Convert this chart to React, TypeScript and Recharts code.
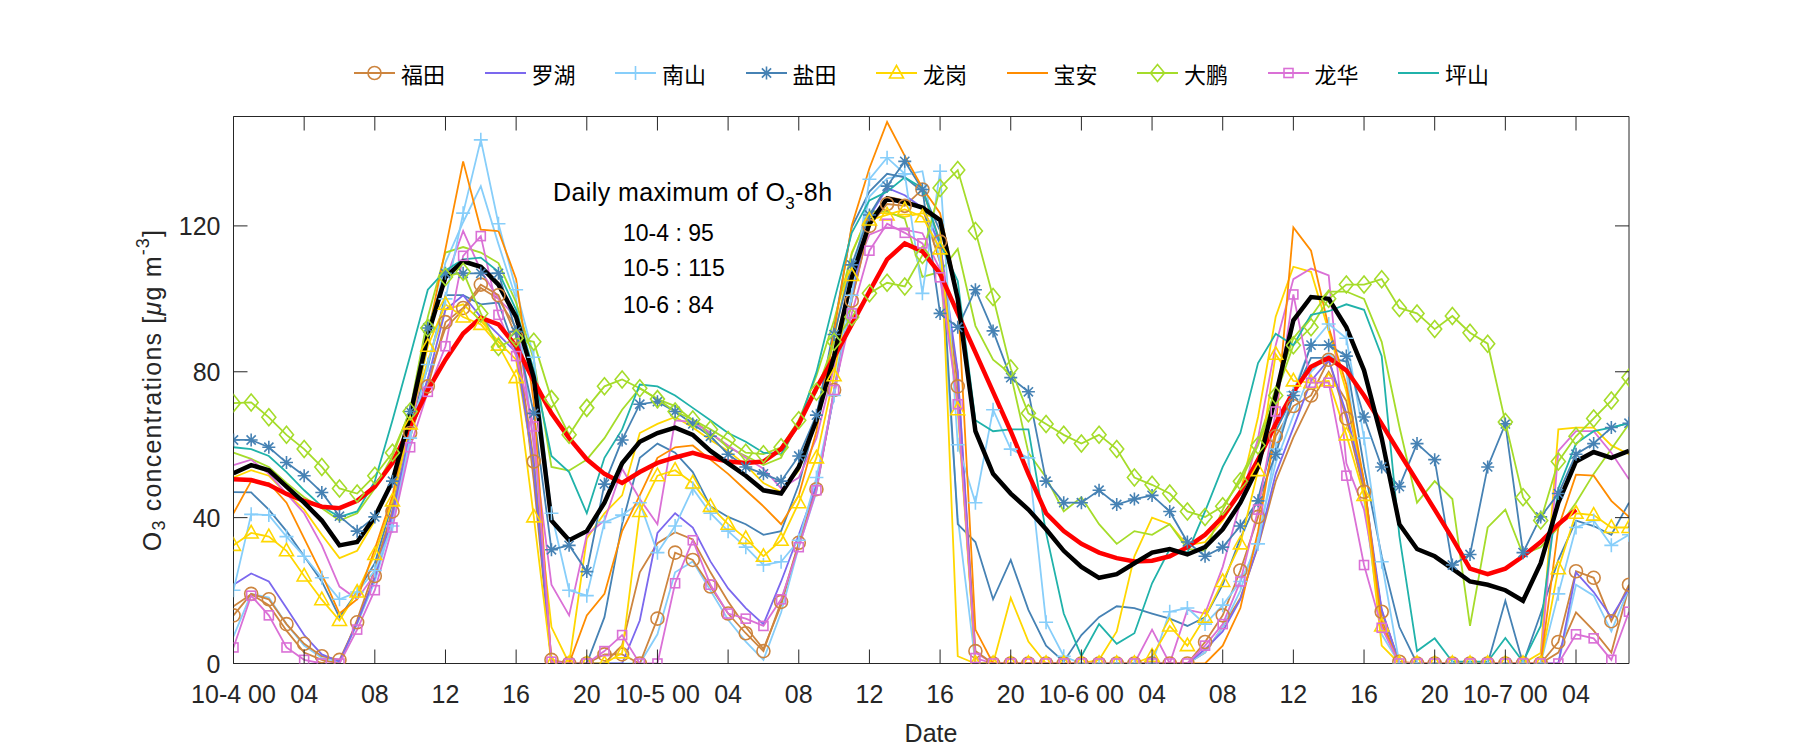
import React from "react";
import { Line, LineChart, XAxis, YAxis } from "recharts";

const FONT = '"Liberation Sans", Arial, sans-serif';
const CJK = '"Noto Sans CJK SC", sans-serif';
const INK = "#262626";

// hour index from 10-4 00:00
const HOURS = Array.from({ length: 80 }, (_, i) => i);
const X_TICKS = [0, 4, 8, 12, 16, 20, 24, 28, 32, 36, 40, 44, 48, 52, 56, 60, 64, 68, 72, 76];
const X_TICK_LABELS = [
  "10-4 00", "04", "08", "12", "16", "20",
  "10-5 00", "04", "08", "12", "16", "20",
  "10-6 00", "04", "08", "12", "16", "20",
  "10-7 00", "04",
];
const Y_TICKS = [0, 40, 80, 120];

const DAILY_MAX = ["10-4 : 95", "10-5 : 115", "10-6 : 84"];

const RED = [
  50.5, 50.3, 49, 46.5, 44.6, 43, 42.6, 44.6, 48.5, 55,
  65, 75, 83.3, 90.5, 94.8, 93, 87, 77.5, 68.6, 61.8,
  56, 52, 49.5, 52.5, 55, 56.5, 57.8, 56.4, 55.4, 55,
  55.4, 58.8, 65.7, 75.5, 84, 93, 102, 110.8, 115.2, 113,
  106.9, 96, 85.3, 74.5, 63.7, 52, 41.2, 36.3, 32.8, 30.4,
  28.9, 28, 28.2, 29.4, 31.9, 35.3, 40.2, 47, 55.9, 65.7,
  74.5, 81.4, 83.8, 80.4, 73.5, 65.7, 57.8, 50, 42.2, 34.3,
  26, 24.5, 26, 29.4, 33.3, 38.2, 42.2, null, null, null,
];
const BLACK = [
  52.2, 54.4, 53, 48.5, 44.1, 39.2, 32.4, 33.3, 40.2, 50,
  68, 90, 106, 110.3, 108.8, 103.9, 95, 78.4, 39.2, 33.8,
  36.3, 44.1, 54.9, 60.8, 63.2, 64.7, 62.7, 58.3, 54.9, 51.5,
  47.5, 46.6, 53.9, 66.7, 84.3, 105.9, 120.6, 127.5, 126.5, 125,
  121.6, 100, 63.7, 52, 46.6, 42.2, 36.8, 30.9, 26.5, 23.5,
  24.5, 27.5, 30.4, 31.4, 29.9, 31.9, 36.8, 44.1, 53.9, 73.5,
  94.1, 100.5, 100, 92.2, 80.4, 61.8, 38.2, 31.4, 29.4, 26,
  22.5, 21.6, 20.1, 17.2, 27.5, 44.1, 55.4, 58, 56.4, 58.3,
];
const FUTIAN = [
  13.2, 19.1, 17.6, 10.8, 5.4, 2, 1, 11.3, 24, 41.7,
  63.2, 76, 93.6, 97.5, 103.9, 101, 89.7, 55.4, 1, 0,
  0, 2.5, 2.5, 0, 12.3, 30.4, 28.4, 21.1, 13.7, 8.3,
  3.4, 16.9, 33.1, 47.8, 75, 99.5, 120, 126, 125.5, 130,
  115.7, 76, 3.4, 0, 0, 0, 0, 0, 0, 0,
  0, 0, 0, 0, 0, 5.9, 13.2, 25.5, 40.2, 62.3,
  70.6, 73.5, 83.3, 67.2, 47.1, 14.2, 0.5, 0, 0, 0,
  0, 0, 0, 0, 0, 5.9, 25.3, 23.5, 11.6, 21.6,
];
const FUTIAN_B = [
  15.7, 19, 16, 9, 3, 1, 0, 12, 26, 42,
  62, 78, 92, 97, 103, 100, 92, 50, 0, 0,
  0, 0, 5, 25, 33, 36, 34, 25, 17, 10,
  4, 16, 33, 48, 74, 100, 120, 128, 127, 125,
  110, 72, 0, 0, 0, 0, 0, 0, 0, 0,
  0, 0, 0, 0, 0, 3, 10, 18, 32, 50,
  62, 72, 80, 72, 50, 12, 0, 0, 0, 0,
  0, 0, 0, 0, 0, 3, 14, 9, 3, 21,
];
const LUOHU = [
  21.6, 24.7, 22.5, 15.2, 7.8, 2.5, 0.5, 11.3, 23.5, 41,
  63.7, 78, 97, 101, 95, 90.2, 85.3, 54, 0, 0,
  0, 0, 0, 11.8, 35.8, 41.2, 37.3, 28, 20.6, 15.2,
  10.8, 22.5, 35.3, 49, 73.5, 101, 122.5, 130.4, 128.4, 125,
  115, 80, 0, 0, 0, 0, 0, 0, 0, 0,
  0, 0, 0, 0, 0, 3.9, 8.8, 17.6, 32.4, 52,
  64.7, 77.5, 83.3, 68.6, 49, 14.7, 0, 0, 0, 0,
  0, 0, 0, 0, 0, 0, 25, 19.6, 12.7, 20.6,
];
const NANSHAN = [
  20.1, 40.9, 40.7, 34.8, 29.4, 23.5, 17.6, 19.6, 25.5, 37.7,
  61.8, 82, 100, 123.5, 143.6, 120.6, 102.5, 84, 41.2, 20.1,
  18.6, 38.7, 40.7, 44.1, 30.4, 37.7, 48, 41.2, 36.3, 31.9,
  27, 27.9, 33.8, 51, 73.5, 101, 132.8, 138.7, 134.3, 101.5,
  135, 60, 44.1, 69.6, 58.8, 56.4, 11.3, 2, 0, 0,
  0, 0, 0, 14.2, 15.2, 10.8, 16, 22.5, 32.8, 58.8,
  74.5, 87.3, 93.1, 89.2, 61.8, 27.9, 0, 0, 0, 0,
  0, 0, 0, 0, 0, 19.1, 37.3, 39.2, 32.4, 35.3,
];
const NANSHAN_B = [
  7.4, 19.1, 18.1, 10.8, 4.9, 1.5, 0.5, 10.8, 22.5, 39.2,
  61.8, 88, 110, 121, 130.9, 115, 100, 60, 0, 0,
  0, 0, 0, 0, 8, 25, 28, 20, 12, 6,
  1, 14, 32, 47, 75, 106, 128, 133, 134, 135,
  110, 40, 0, 0, 0, 0, 0, 0, 0, 0,
  0, 0, 0, 0, 0, 3, 10, 20, 35, 55,
  68, 80, 85, 80, 45, 8, 0, 0, 0, 0,
  0, 0, 0, 0, 0, 0, 21.6, 18.6, 8.8, 20.6,
];
const YANTIAN = [
  61.3, 61.3, 59.3, 55.1, 51.5, 46.9, 40.4, 36.3, 40.2, 50,
  69.1, 92, 107, 107, 107, 107, 91, 68.6, 31.2, 32.4,
  25.2, 49.2, 61.3, 71.1, 71.8, 69.1, 65.7, 62.3, 57.4, 53.9,
  52, 50, 56.9, 68.1, 90.2, 109.3, 123, 130.9, 137.7, 130,
  96, 92.2, 102.5, 91.2, 78.4, 74.5, 50, 44.1, 44.1, 47.5,
  43.6, 45.1, 46.1, 41.7, 33.3, 29.4, 31.9, 37.7, 44.6, 57.4,
  73.5, 87.3, 87.3, 84.3, 67.6, 53.9, 48.5, 60.3, 55.9, 27,
  29.9, 53.9, 65.7, 30.4, 40.2, 46.6, 57.4, 60.3, 64.7, 65.9,
];
const YANTIAN_B = [
  47, 46.9, 42.2, 36.3, 29.4, 22.5, 12.7, 19.6, 27.5, 44.1,
  65.7, 81.4, 101, 101, 98.5, 99, 85.3, 53.9, 0, 0,
  0, 12.7, 38.2, 56.4, 60.3, 57.8, 52.5, 43.1, 40.2, 38.2,
  35.3, 36.3, 49, 67.6, 92.2, 119.6, 129.4, 134.3, 133.3, 129.4,
  118.6, 38.2, 33.3, 17.6, 28.4, 14.7, 4.9, 0.5, 7.8, 12.7,
  15.7, 15.2, 13.7, 12.3, 10.3, 12.7, 21.6, 34.3, 45.1, 63.7,
  73.5, 83.8, 83.8, 82.8, 53.9, 29.4, 10, 0, 0, 0,
  0, 0, 17.2, 0, 13.7, 28.4, 39.2, 37.7, 35.3, 44.1,
];
const LONGGANG = [
  32.4, 35.8, 34.8, 30.9, 24, 17.5, 11.8, 19.6, 29.9, 44.6,
  65.7, 87, 98.5, 95, 93, 87.3, 78.4, 40.2, 0, 0,
  0, 0, 2.9, 41.7, 51.5, 53, 49.5, 43.1, 38.2, 34.3,
  29.4, 33.8, 44.1, 56.4, 78.9, 106.4, 121.6, 123, 124.5, 122.5,
  113.7, 69.6, 0, 0, 0, 0, 0, 0, 0, 0,
  0, 0, 2, 10.3, 4.9, 12.7, 22.5, 32.8, 52.9, 84.8,
  77.5, 77, 77.5, 62.7, 46.1, 10.3, 0, 0, 0, 0,
  0, 0, 0, 0, 0, 26, 41.2, 40.7, 37.3, 37.3,
];
const LONGGANG_B = [
  51, 53, 51.5, 46.6, 42.2, 35.3, 28.9, 30.9, 39.2, 50,
  66.7, 83, 97, 98.5, 94, 88.2, 83.3, 54, 10, 0,
  34.3, 41.2, 46.1, 63.2, 65.7, 67.6, 64.7, 61.3, 58.3, 54.4,
  49.5, 47, 52.9, 66.2, 89.2, 112.7, 123.5, 123.5, 122.5, 123.5,
  121.6, 2, 0, 0, 18, 6, 0, 0, 0, 1,
  8.8, 29.4, 40, 38.2, 32.4, 33.3, 39.2, 47, 67.6, 95.1,
  108.8, 107.4, 91.2, 74.5, 48, 4.9, 0, 0, 0, 0,
  0, 0, 0, 0, 2.9, 64.2, 64.7, 64.7, 59.8, 57.4,
];
const BAOAN = [
  41.2, 50, 49.5, 44.1, 34.3, 24.5, 13.7, 17.6, 31.4, 46,
  68.6, 90, 113.7, 137.7, 119, 118.6, 105.4, 71.6, 0, 0,
  13.2, 19.1, 36.3, 46.1, 56.4, 59.3, 59.8, 55.9, 52, 47.5,
  43.1, 38.2, 46.1, 63.7, 91.2, 120.1, 135.8, 148.5, 139.2, 130.4,
  123.5, 101, 9.3, 0, 0, 0, 0, 0, 0, 0,
  0, 0, 0, 0, 0, 0, 4.9, 15.2, 36.3, 64.7,
  119.6, 113.2, 92.2, 76.5, 50, 10.8, 0, 0, 0, 0,
  0, 0, 0, 0, 0, 37.3, 51.8, 51.5, 44.6, 40.2,
];
const DAPENG = [
  71.4, 71.6, 67.5, 62.7, 58.8, 53.9, 48, 46.6, 51.5, 57.8,
  69.1, 92, 106, 107.4, 96, 86.8, 89.2, 88.2, 72.5, 62.7,
  70.1, 76, 77.9, 75.5, 72.5, 69.1, 66.9, 64.2, 61.3, 57.8,
  57.4, 59.3, 66.7, 74.5, 88.2, 95, 101.5, 104.4, 103.4, 112,
  130.4, 135.3, 118.6, 100.5, 80.9, 68.6, 65.7, 62.7, 60.3, 62.7,
  58.8, 51, 49, 46.6, 41.7, 40.2, 43.1, 50, 59.8, 73.5,
  87.3, 92.2, 100, 103.9, 103.9, 105.4, 97.5, 96, 91.7, 95.3,
  90.7, 87.7, 66.2, 45.6, 39.2, 55.4, 62.3, 67.2, 72.1, 78.4,
];
const DAPENG_B = [
  57.8, 56.1, 53.9, 49.5, 45.6, 42.6, 39.2, 41.2, 48, 56.9,
  69.6, 95, 112.7, 114.2, 112.7, 109.8, 99, 83.3, 53.9, 52.9,
  55.9, 61.8, 69.6, 75.5, 72.5, 70.6, 66.7, 63.2, 59.3, 56.9,
  54.4, 56.4, 66.7, 78.9, 94.1, 112.3, 124, 124, 122, 106,
  107.4, 113.7, 92.6, 83.3, 79.4, 57.8, 51, 41.7, 45.6, 38.2,
  32.8, 36.3, 35.3, 38.2, 31.4, 30.9, 42.2, 51, 60.8, 75.5,
  89.2, 95.1, 102, 102, 100, 88.2, 65, 44.1, 50, 45.1,
  10.3, 37.3, 42.2, 29.9, 31.9, 37.3, 44.1, 52, 58.8, 65.7,
];
const LONGHUA = [
  4.4, 18.6, 13.2, 4.4, 1, 0, 0, 9.3, 20.1, 37.3,
  59.3, 74.5, 87, 111.8, 117.2, 95.6, 84.3, 65, 0.5, 0,
  0, 3.4, 7.8, 0, 0, 22, 33.8, 21.6, 13.7, 12.3,
  10.3, 17.6, 31.9, 47.5, 75, 96, 113.2, 120.6, 118.1, 115.2,
  105.9, 71.1, 1.5, 0, 0, 0, 0, 0, 0, 0,
  0, 0, 0, 0, 0, 4.9, 10.8, 22.5, 42.2, 69.1,
  101.2, 77, 77, 51.5, 27, 9.8, 0, 0, 0, 0,
  0, 0, 0, 0, 0, 0, 8, 6.9, 1, 14.2,
];
const LONGHUA_B = [
  54.4, 55.9, 52, 46.6, 41.2, 32.4, 21.1, 17.6, 24.5, 40.2,
  61.8, 90, 105, 118.6, 107.8, 100, 95, 60, 21.6, 13.2,
  35.3, 39.2, 53.4, 45.1, 38.2, 66.7, 66.2, 63.2, 59.8, 56.4,
  53.4, 48, 51, 61.8, 81.4, 105.9, 117.6, 119.6, 119, 118,
  108, 80, 3, 0, 0, 0, 0, 0, 0, 0,
  0, 0, 9.3, 0, 14.7, 13.7, 26.5, 44.1, 61.8, 87.3,
  105.4, 108.3, 106.4, 54.9, 42.2, 14.7, 0, 0, 0, 0,
  0, 0, 0, 0, 0, 58.3, 63.7, 63.7, 57.8, 50.5,
];
const PINGSHAN = [
  59.3, 58.8, 56.9, 52.5, 47.5, 43.1, 40.2, 41.7, 50, 66.7,
  84.3, 102.5, 107.8, 110.8, 111.3, 107.4, 97, 80.4, 56.9, 52.5,
  41.2, 56.4, 64.2, 76.5, 76, 73.5, 70.1, 66.7, 63.2, 60.8,
  57.8, 57.4, 65.7, 79.9, 99.5, 118.1, 127, 129.4, 133.3, 130.4,
  115.2, 104.9, 66.7, 63.7, 64.2, 64.2, 35.8, 13.7, 2, 10.8,
  5.4, 8.3, 22, 31.4, 30.4, 41.7, 53.9, 63.2, 82.4, 90.4,
  87.3, 95.6, 96.6, 98.5, 97, 84.3, 35, 3.4, 6.9, 0.5,
  0.5, 0.5, 7, 0.5, 10.3, 48, 60.3, 63.7, 64.7, 65.9,
];

const C = {
  futian: "#CD853F",
  luohu: "#7B68EE",
  nanshan: "#87CEFA",
  yantian: "#4682B4",
  longgang: "#FFD700",
  baoan: "#FF8C00",
  dapeng: "#A5DC2A",
  longhua: "#DA70D6",
  pingshan: "#20B2AA",
};

type Shape = "circle" | "plus" | "star" | "triangle" | "diamond" | "square" | null;

interface SeriesDef {
  key: string;
  values: (number | null)[];
  color: string;
  shape: Shape;
  width: number;
  name?: string;
}

// unlabelled companion lines first, then the districts, then the two summary lines
const SERIES: SeriesDef[] = [
  { key: "futianB", values: FUTIAN_B, color: C.futian, shape: null, width: 1.8 },
  { key: "nanshanB", values: NANSHAN_B, color: C.nanshan, shape: null, width: 1.8 },
  { key: "yantianB", values: YANTIAN_B, color: C.yantian, shape: null, width: 1.8 },
  { key: "longgangB", values: LONGGANG_B, color: C.longgang, shape: null, width: 1.8 },
  { key: "dapengB", values: DAPENG_B, color: C.dapeng, shape: null, width: 1.8 },
  { key: "longhuaB", values: LONGHUA_B, color: C.longhua, shape: null, width: 1.8 },
  { key: "futian", name: "福田", values: FUTIAN, color: C.futian, shape: "circle", width: 1.8 },
  { key: "luohu", name: "罗湖", values: LUOHU, color: C.luohu, shape: null, width: 1.8 },
  { key: "nanshan", name: "南山", values: NANSHAN, color: C.nanshan, shape: "plus", width: 1.8 },
  { key: "yantian", name: "盐田", values: YANTIAN, color: C.yantian, shape: "star", width: 1.8 },
  { key: "longgang", name: "龙岗", values: LONGGANG, color: C.longgang, shape: "triangle", width: 1.8 },
  { key: "baoan", name: "宝安", values: BAOAN, color: C.baoan, shape: null, width: 1.8 },
  { key: "dapeng", name: "大鹏", values: DAPENG, color: C.dapeng, shape: "diamond", width: 1.8 },
  { key: "longhua", name: "龙华", values: LONGHUA, color: C.longhua, shape: "square", width: 1.8 },
  { key: "pingshan", name: "坪山", values: PINGSHAN, color: C.pingshan, shape: null, width: 1.8 },
  { key: "red", values: RED, color: "#FF0000", shape: null, width: 4.5 },
  { key: "black", values: BLACK, color: "#000000", shape: null, width: 4.5 },
];

const LEGEND = SERIES.filter((s) => s.name);

const rows = HOURS.map((h, i) => {
  const row: Record<string, number | null> = { h };
  for (const s of SERIES) row[s.key] = s.values[i];
  return row;
});

function Marker({ shape, x, y, color }: { shape: Shape; x: number; y: number; color: string }) {
  const common = { fill: "none", stroke: color, strokeWidth: 1.6 };
  switch (shape) {
    case "circle":
      return <circle cx={x} cy={y} r={6.5} {...common} />;
    case "plus":
      return <path d={`M${x - 7},${y}H${x + 7}M${x},${y - 7}V${y + 7}`} {...common} />;
    case "star":
      return (
        <path
          d={`M${x - 6.5},${y}H${x + 6.5}M${x},${y - 6.5}V${y + 6.5}M${x - 4.6},${y - 4.6}L${x + 4.6},${y + 4.6}M${x - 4.6},${y + 4.6}L${x + 4.6},${y - 4.6}`}
          {...common}
        />
      );
    case "triangle":
      return <path d={`M${x},${y - 7.5}L${x + 7},${y + 5}L${x - 7},${y + 5}Z`} {...common} />;
    case "diamond":
      return <path d={`M${x},${y - 8.5}L${x + 7},${y}L${x},${y + 8.5}L${x - 7},${y}Z`} {...common} />;
    case "square":
      return <rect x={x - 4.5} y={y - 4.5} width={9} height={9} {...common} />;
    default:
      return null;
  }
}

function dotFor(shape: Shape, color: string) {
  return (p: any) => {
    const k = `${shape}-${p.index}`;
    if (p.cx == null || p.cy == null || p.value == null) return <g key={k} />;
    return (
      <g key={k}>
        <Marker shape={shape} x={p.cx} y={p.cy} color={color} />
      </g>
    );
  };
}

function BottomTick({ x, y, payload }: any) {
  const label = X_TICK_LABELS[X_TICKS.indexOf(payload.value)];
  return (
    <g>
      <line x1={x} x2={x} y1={y} y2={y - 14} stroke={INK} strokeWidth={1} />
      <text x={x} y={y + 30} textAnchor="middle" dominantBaseline="central" fontSize={25} fill={INK} fontFamily={FONT}>
        {label}
      </text>
    </g>
  );
}

function TopTick({ x, y }: any) {
  return <line x1={x} x2={x} y1={y} y2={y + 14} stroke={INK} strokeWidth={1} />;
}

function LeftTick({ x, y, payload }: any) {
  return (
    <g>
      <line x1={x} x2={x + 14} y1={y} y2={y} stroke={INK} strokeWidth={1} />
      <text x={x - 13} y={y} textAnchor="end" dominantBaseline="central" fontSize={25} fill={INK} fontFamily={FONT}>
        {payload.value}
      </text>
    </g>
  );
}

function RightTick({ x, y }: any) {
  return <line x1={x} x2={x - 14} y1={y} y2={y} stroke={INK} strokeWidth={1} />;
}

function YLabel() {
  return (
    <text
      transform="translate(152,390) rotate(-90)"
      textAnchor="middle"
      dominantBaseline="central"
      fontSize={25}
      letterSpacing={1.2}
      fill={INK}
      fontFamily={FONT}
    >
      <tspan>O</tspan>
      <tspan dy={7} fontSize={18}>3</tspan>
      <tspan dy={-7}> concentrations [</tspan>
      <tspan fontStyle="italic">μ</tspan>
      <tspan>g m</tspan>
      <tspan dy={-9} fontSize={18}>-3</tspan>
      <tspan dy={9}>]</tspan>
    </text>
  );
}

function XLabel() {
  return (
    <text x={931} y={733} textAnchor="middle" dominantBaseline="central" fontSize={25} fill={INK} fontFamily={FONT}>
      Date
    </text>
  );
}

function LegendRow() {
  return (
    <div style={{ position: "absolute", left: 354, top: 60, display: "flex", alignItems: "center", height: 26 }}>
      {LEGEND.map((s) => (
        <div key={s.key} style={{ width: 130.5, display: "flex", alignItems: "center" }}>
          <svg width={41} height={26} style={{ display: "block" }}>
            <line x1={0} x2={41} y1={13} y2={13} stroke={s.color} strokeWidth={1.8} />
            <Marker shape={s.shape} x={20.5} y={13} color={s.color} />
          </svg>
          <span style={{ marginLeft: 6, fontFamily: CJK, fontSize: 22, color: "#000", lineHeight: "26px" }}>{s.name}</span>
        </div>
      ))}
    </div>
  );
}

function Annotation() {
  const base = { position: "absolute" as const, fontFamily: FONT, color: "#000", whiteSpace: "nowrap" as const };
  return (
    <>
      <div style={{ ...base, left: 553, top: 180, fontSize: 25, lineHeight: "25px", letterSpacing: 0.4 }}>
        Daily maximum of O<span style={{ fontSize: 17, position: "relative", top: 8 }}>3</span>-8h
      </div>
      {DAILY_MAX.map((t, i) => (
        <div key={t} style={{ ...base, left: 623, top: [222, 257, 294][i], fontSize: 23, lineHeight: "23px" }}>
          {t}
        </div>
      ))}
    </>
  );
}

export default function App() {
  return (
    <div style={{ position: "absolute", left: 0, top: 0, width: 1800, height: 750, background: "#fff", fontFamily: FONT }}>
      <LineChart width={1800} height={750} data={rows} margin={{ top: 115.5, right: 170, bottom: 36.5, left: 163.5 }}>
        <XAxis
          dataKey="h"
          type="number"
          domain={[0, 79]}
          ticks={X_TICKS}
          interval={0}
          allowDataOverflow
          height={50}
          tickSize={0}
          tickMargin={0}
          tick={<BottomTick />}
          axisLine={{ stroke: INK, strokeWidth: 1 }}
          label={() => <XLabel />}
        />
        <XAxis
          xAxisId="top"
          orientation="top"
          dataKey="h"
          type="number"
          domain={[0, 79]}
          ticks={X_TICKS}
          interval={0}
          allowDataOverflow
          height={1}
          tickSize={0}
          tickMargin={0}
          tick={<TopTick />}
          axisLine={{ stroke: INK, strokeWidth: 1 }}
        />
        <YAxis
          type="number"
          domain={[0, 150]}
          ticks={Y_TICKS}
          interval={0}
          allowDataOverflow
          width={70}
          tickSize={0}
          tickMargin={0}
          tick={<LeftTick />}
          axisLine={{ stroke: INK, strokeWidth: 1 }}
          label={() => <YLabel />}
        />
        <YAxis
          yAxisId="right"
          orientation="right"
          type="number"
          domain={[0, 150]}
          ticks={[40, 80, 120]}
          interval={0}
          allowDataOverflow
          width={1}
          tickSize={0}
          tickMargin={0}
          tick={<RightTick />}
          axisLine={{ stroke: INK, strokeWidth: 1 }}
        />
        {/* carries the mirrored frame axes, draws nothing */}
        <Line xAxisId="top" yAxisId="right" dataKey="red" stroke="none" dot={false} activeDot={false} isAnimationActive={false} legendType="none" />
        {SERIES.map((s) => (
          <Line
            key={s.key}
            type="linear"
            dataKey={s.key}
            stroke={s.color}
            strokeWidth={s.width}
            dot={s.shape ? dotFor(s.shape, s.color) : false}
            activeDot={false}
            isAnimationActive={false}
            legendType="none"
          />
        ))}
      </LineChart>
      <LegendRow />
      <Annotation />
    </div>
  );
}
